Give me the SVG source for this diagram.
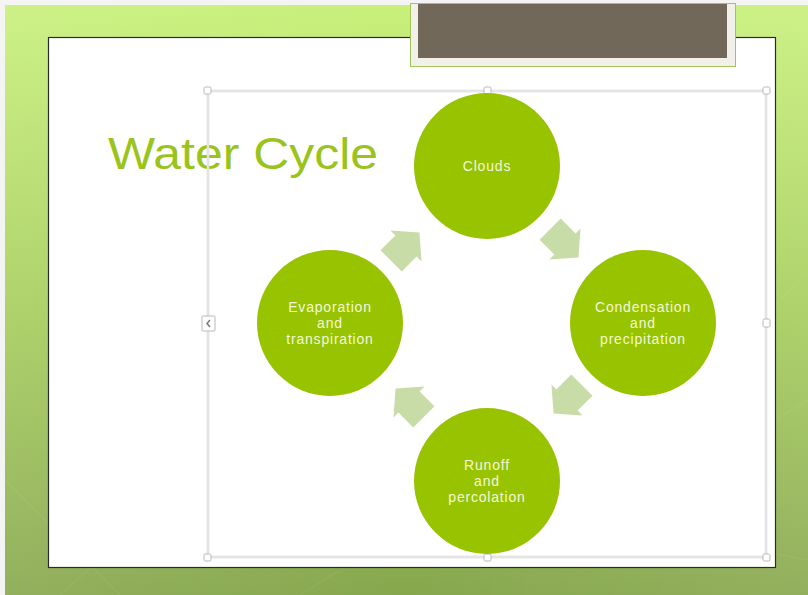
<svg xmlns="http://www.w3.org/2000/svg" width="808" height="595" viewBox="0 0 808 595">
<defs>
<linearGradient id="bg" x1="0" y1="0" x2="0" y2="1">
<stop offset="0" stop-color="#c8f07a"/>
<stop offset="0.5" stop-color="#a8ce5d"/>
<stop offset="1" stop-color="#87a74d"/>
</linearGradient>
<linearGradient id="bgh" x1="0" y1="0" x2="1" y2="0">
<stop offset="0" stop-color="#ffffff" stop-opacity="0.10"/>
<stop offset="0.5" stop-color="#ffffff" stop-opacity="0"/>
<stop offset="1" stop-color="#ffffff" stop-opacity="0.10"/>
</linearGradient>
<polygon id="arr" points="-21,-15 0,-15 0,-22 19,0 0,22 0,15 -21,15"/>
</defs>
<style>
.node{fill:#97c300}
.lbl{font-family:"Liberation Sans",Arial,sans-serif;font-size:14px;letter-spacing:0.8px;fill:#f3f8dc;text-anchor:middle}
.arrow{fill:#c8dca8}
.sel{fill:none;stroke:#d2d2d2;stroke-width:2.5}
.sel2{fill:none;stroke:#ffffff;stroke-width:0.8}
.h{fill:#ffffff;stroke:#b8b8b8;stroke-width:1}
</style>
<rect x="0" y="0" width="808" height="595" fill="#f4f4f4"/>
<rect x="5" y="5" width="803" height="590" fill="url(#bg)"/>
<rect x="5" y="5" width="803" height="590" fill="url(#bgh)"/>
<g stroke="#ffffff" stroke-opacity="0.08" stroke-width="1" fill="none">
<path d="M5,480 L120,595"/>
<path d="M60,595 L200,470"/>
<path d="M300,595 L420,520"/>
<path d="M600,520 L808,560"/>
<path d="M780,300 L808,270"/>
<path d="M775,420 L808,400"/>
</g>
<rect x="48.5" y="37.5" width="727" height="530" fill="#ffffff" stroke="#2a2a2a" stroke-width="1.2"/>
<g id="header">
<rect x="410.5" y="3.5" width="325" height="63" fill="#f1f1ea" stroke="#a3c45a" stroke-width="1"/>
<rect x="418" y="4" width="309" height="54" fill="#72685a"/>
</g>
<text x="108" y="169" font-family="'Century Gothic','Liberation Sans',Arial,sans-serif" font-size="45" fill="#9ac41c" textLength="270" lengthAdjust="spacingAndGlyphs">Water Cycle</text>
<g id="selection">
<rect class="sel" x="208" y="91" width="558" height="466"/>
<rect class="sel2" x="208" y="91" width="558" height="466"/>
<rect class="h" x="204" y="87" width="7" height="7" rx="1.5"/>
<rect class="h" x="484" y="87" width="7" height="7" rx="1.5"/>
<rect class="h" x="763" y="87" width="7" height="7" rx="1.5"/>
<rect class="h" x="763" y="319" width="7" height="8" rx="1.5"/>
<rect class="h" x="204" y="554" width="7" height="7" rx="1.5"/>
<rect class="h" x="484" y="554" width="7" height="7" rx="1.5"/>
<rect class="h" x="763" y="554" width="7" height="7" rx="1.5"/>
<rect class="h" x="202" y="316" width="13" height="15" rx="1"/>
<path d="M210,320 L207,323.5 L210,327" fill="none" stroke="#777" stroke-width="1.5"/>
</g>
<g id="connectors">
<use href="#arr" class="arrow" transform="translate(565,244) rotate(45)"/>
<use href="#arr" class="arrow" transform="translate(567,400) rotate(135)"/>
<use href="#arr" class="arrow" transform="translate(409,402) rotate(225)"/>
<use href="#arr" class="arrow" transform="translate(406,246) rotate(-45)"/>
</g>
<g id="clouds">
<circle class="node" cx="487" cy="166" r="73"/>
<text class="lbl" x="487" y="171">Clouds</text>
</g>
<g id="condensation">
<circle class="node" cx="643" cy="323" r="73"/>
<text class="lbl" x="643" y="312">Condensation</text>
<text class="lbl" x="643" y="328">and</text>
<text class="lbl" x="643" y="344">precipitation</text>
</g>
<g id="runoff">
<circle class="node" cx="487" cy="481" r="73"/>
<text class="lbl" x="487" y="470">Runoff</text>
<text class="lbl" x="487" y="486">and</text>
<text class="lbl" x="487" y="502">percolation</text>
</g>
<g id="evaporation">
<circle class="node" cx="330" cy="323" r="73"/>
<text class="lbl" x="330" y="312">Evaporation</text>
<text class="lbl" x="330" y="328">and</text>
<text class="lbl" x="330" y="344">transpiration</text>
</g>
</svg>
